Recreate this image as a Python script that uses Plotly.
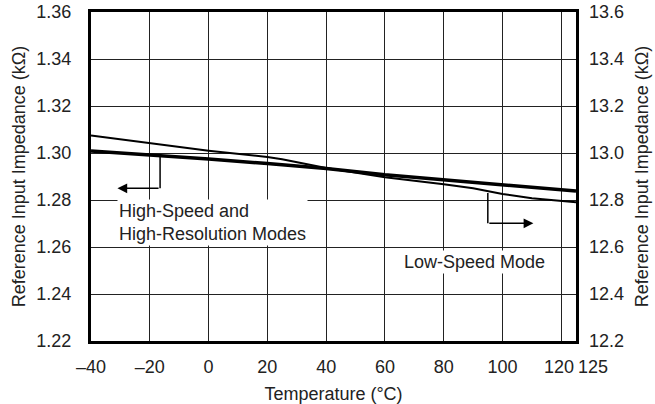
import plotly.graph_objects as go

# temperature points (deg C)
temp_hs = [-40, -20, 0, 20, 40, 60, 80, 100, 120, 125]
# High-Speed and High-Resolution Modes, left axis (kOhm)
imp_hs = [1.3009, 1.2993, 1.2975, 1.2955, 1.2934, 1.2907, 1.2885, 1.2864, 1.2844, 1.2838]

temp_ls = [-40, -20, 0, 20, 25, 40, 50, 60, 80, 90, 100, 110, 125]
# Low-Speed Mode, right axis (kOhm)
imp_ls = [13.074, 13.041, 13.010, 12.983, 12.973, 12.936, 12.915, 12.897, 12.867, 12.850, 12.826, 12.807, 12.790]

x_ticks = [-40, -20, 0, 20, 40, 60, 80, 100, 120, 125]
# 125 is drawn as a separate label, nudged right as in the original
x_labels = ["\u201340", "\u201320", "0", "20", "40", "60", "80", "100", "120\u2005", ""]

FONT = dict(family="Liberation Sans, Arial, sans-serif", size=18, color="#222")
GRID = "#222"

fig = go.Figure()
fig.add_trace(go.Scatter(x=temp_hs, y=imp_hs, mode="lines",
                         line=dict(color="black", width=3.5), yaxis="y"))
fig.add_trace(go.Scatter(x=temp_ls, y=imp_ls, mode="lines",
                         line=dict(color="black", width=2), yaxis="y2"))

# L-shaped pointer lines
fig.add_shape(type="line", x0=-16.5, x1=-16.5, y0=1.2990, y1=1.285,
              line=dict(color="black", width=1.5))
fig.add_shape(type="line", x0=95, x1=95, y0=1.2830, y1=1.2701,
              line=dict(color="black", width=1.5))
fig.add_annotation(x=-31, y=1.285, ax=-16.5, ay=1.285, xref="x", yref="y",
                   axref="x", ayref="y", text="", showarrow=True,
                   arrowhead=2, arrowsize=1.3, arrowwidth=1.5, arrowcolor="black")
fig.add_annotation(x=110.5, y=1.2701, ax=95, ay=1.2701, xref="x", yref="y",
                   axref="x", ayref="y", text="", showarrow=True,
                   arrowhead=2, arrowsize=1.3, arrowwidth=1.5, arrowcolor="black")

fig.add_annotation(x=-31, y=1.2704, xref="x", yref="y", xanchor="left",
                   text="High-Speed and<br>High-Resolution Modes", showarrow=False,
                   align="left", font=FONT, bgcolor="white")
fig.add_annotation(x=90.5, y=1.2537, xref="x", yref="y",
                   text="Low-Speed Mode", showarrow=False, font=FONT, bgcolor="white")
fig.add_annotation(x=125, y=0, xref="x", yref="paper", yanchor="middle",
                   xshift=17, yshift=-26, text="125", showarrow=False, font=FONT)

fig.update_layout(
    width=655, height=404,
    margin=dict(l=91, r=79, t=12, b=63),
    paper_bgcolor="white", plot_bgcolor="white",
    showlegend=False,
    font=FONT,
    xaxis=dict(range=[-40, 125], tickvals=x_ticks, ticktext=x_labels, tickangle=0,
               showgrid=True, gridcolor=GRID, gridwidth=1, automargin=False,
               showline=True, linecolor="black", linewidth=3, mirror=True,
               ticks="", ticklabelstandoff=7, zeroline=False,
               title=dict(text="Temperature (°C)", standoff=13, font=FONT)),
    yaxis=dict(range=[1.22, 1.36], dtick=0.02, tickformat=".2f",
               showgrid=True, gridcolor=GRID, gridwidth=1, automargin=False,
               showline=True, linecolor="black", linewidth=3, mirror=True,
               ticks="", ticklabelstandoff=13, zeroline=False,
               title=dict(text="Reference Input Impedance (kΩ)", standoff=7, font=FONT)),
    yaxis2=dict(range=[12.2, 13.6], dtick=0.2, tickformat=".1f", automargin=False,
                overlaying="y", side="right", showgrid=False, zeroline=False,
                ticks="", ticklabelstandoff=12,
                title=dict(text="Reference Input Impedance (kΩ)", standoff=12, font=FONT)),
)

# drop the default 8px page margin so the chart sits at the window corner
fig.write_html("out.html", config={"displayModeBar": False},
               post_script="document.body.style.margin='0px';")
